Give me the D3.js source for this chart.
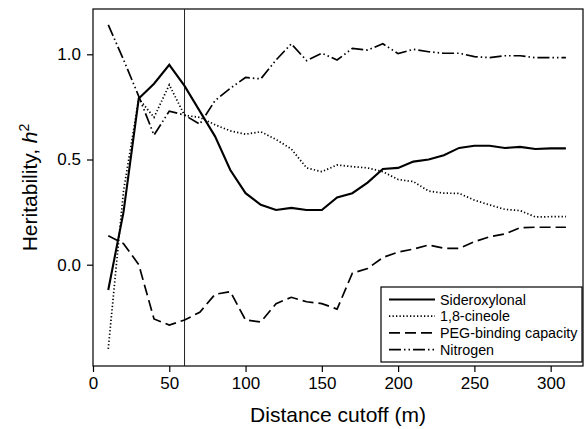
<!DOCTYPE html>
<html>
<head>
<meta charset="utf-8">
<script src="https://cdn.jsdelivr.net/npm/d3@7"></script>
<style>
  body { margin: 0; background: #fff; }
  text { font-family: "Liberation Sans", Arial, sans-serif; fill: #000; }
</style>
</head>
<body>
<div id="chart"></div>
<script>
// Distance cutoffs (m)
var distance = [10, 20, 30, 40, 50, 60, 70, 80, 90, 100, 110, 120, 130, 140, 150, 160,
    170, 180, 190, 200, 210, 220, 230, 240, 250, 260, 270, 280, 290, 300, 310];

// Heritability values
var sideroxylonal = [-0.12, 0.25, 0.79, 0.86, 0.95, 0.85, 0.73, 0.61, 0.45, 0.34, 0.285, 0.26,
    0.27, 0.26, 0.26, 0.32, 0.34, 0.39, 0.455, 0.46, 0.49, 0.50, 0.52, 0.555, 0.565, 0.565,
    0.555, 0.56, 0.55, 0.553, 0.553];
var cineole = [-0.40, 0.35, 0.79, 0.70, 0.855, 0.71, 0.70, 0.665, 0.636, 0.62, 0.632, 0.595,
    0.55, 0.46, 0.442, 0.474, 0.466, 0.46, 0.442, 0.405, 0.395, 0.35, 0.34, 0.339, 0.307,
    0.284, 0.263, 0.257, 0.227, 0.228, 0.228];
var peg = [0.138, 0.10, 0.0, -0.258, -0.287, -0.263, -0.226, -0.141, -0.128, -0.263, -0.272,
    -0.185, -0.155, -0.176, -0.185, -0.211, -0.04, -0.018, 0.034, 0.06, 0.074, 0.094, 0.078,
    0.078, 0.109, 0.133, 0.146, 0.176, 0.178, 0.178, 0.178];
var nitrogen = [1.14, 0.975, 0.80, 0.616, 0.73, 0.711, 0.668, 0.78, 0.838, 0.89, 0.883, 0.973,
    1.05, 0.97, 1.005, 0.973, 1.028, 1.02, 1.05, 1.003, 1.024, 1.012, 1.005, 1.005, 0.989,
    0.984, 0.993, 0.993, 0.984, 0.984, 0.984];

var seriesNames = ["Sideroxylonal", "1,8-cineole", "PEG-binding capacity", "Nitrogen"];
var xTicks = [0, 50, 100, 150, 200, 250, 300];
var yTicks = [0.0, 0.5, 1.0];
var cutoffLine = 60;

var svgWidth = 588;
var svgHeight = 429;

var svg = d3.select("#chart")
    .append("svg")
    .attr("width", svgWidth)
    .attr("height", svgHeight);

var margin = { top: 9, right: 5, bottom: 63, left: 93 };
var width = svgWidth - margin.left - margin.right;
var height = svgHeight - margin.top - margin.bottom;

var chartGroup = svg.append("g")
    .attr("transform", `translate(${margin.left}, ${margin.top})`);

// Scales
var xScale = d3.scaleLinear().domain([0, 321.2]).range([0, width]);
var yScale = d3.scaleLinear().domain([-0.4815, 1.2153]).range([height, 0]);

// Axes
var bottomAxis = d3.axisBottom(xScale).tickValues(xTicks).tickSize(6).tickPadding(5)
    .tickFormat(d3.format("d"));
var leftAxis = d3.axisLeft(yScale).tickValues(yTicks).tickSize(6).tickPadding(6)
    .tickFormat(d3.format(".1f"));

var xAxisG = chartGroup.append("g")
    .attr("transform", `translate(0, ${height})`)
    .call(bottomAxis);
var yAxisG = chartGroup.append("g").call(leftAxis);

[xAxisG, yAxisG].forEach(function(g) {
    g.select(".domain").remove();
    g.selectAll("line").attr("stroke", "#000").attr("stroke-width", 1.2);
    g.selectAll("text").style("font-size", "17px").attr("fill", "#000");
});

// Frame around plot
chartGroup.append("rect")
    .attr("width", width)
    .attr("height", height)
    .attr("fill", "none")
    .attr("stroke", "#000")
    .attr("stroke-width", 1.2);

// Vertical reference line
chartGroup.append("line")
    .attr("x1", xScale(cutoffLine)).attr("x2", xScale(cutoffLine))
    .attr("y1", 0).attr("y2", height)
    .attr("stroke", "#222")
    .attr("stroke-width", 1);

// Series lines
var styles = [
    { values: sideroxylonal, dash: null, w: 2.1 },
    { values: cineole, dash: "1.3,2.2", w: 1.7 },
    { values: peg, dash: "11,5", w: 1.7 },
    { values: nitrogen, dash: "12,3,1.5,3,1.5,3", w: 1.7 }
];

var line = d3.line()
    .x((d, i) => xScale(distance[i]))
    .y(d => yScale(d));

styles.forEach(function(s) {
    chartGroup.append("path")
        .datum(s.values)
        .attr("d", line)
        .attr("fill", "none")
        .attr("stroke", "#000")
        .attr("stroke-width", s.w)
        .attr("stroke-dasharray", s.dash);
});

// Legend
var legend = svg.append("g").attr("transform", "translate(381, 287)");
legend.append("rect")
    .attr("width", 201)
    .attr("height", 75)
    .attr("fill", "#fff")
    .attr("stroke", "#000")
    .attr("stroke-width", 1.2);

seriesNames.forEach(function(name, i) {
    var y = 12.5 + i * 16.7;
    legend.append("line")
        .attr("x1", 8).attr("x2", 54)
        .attr("y1", y).attr("y2", y)
        .attr("stroke", "#000")
        .attr("stroke-width", styles[i].w)
        .attr("stroke-dasharray", styles[i].dash);
    legend.append("text")
        .attr("x", 59)
        .attr("y", y + 5)
        .style("font-size", "14.3px")
        .text(name);
});

// Axis titles
svg.append("text")
    .attr("x", margin.left + width / 2)
    .attr("y", 422)
    .attr("text-anchor", "middle")
    .style("font-size", "21px")
    .text("Distance cutoff (m)");

var yTitle = svg.append("text")
    .attr("transform", `translate(37, ${margin.top + height / 2}) rotate(-90)`)
    .attr("text-anchor", "middle")
    .style("font-size", "21px");
yTitle.append("tspan").text("Heritability, ");
yTitle.append("tspan").style("font-style", "italic").text("h");
yTitle.append("tspan").attr("dy", -8).style("font-size", "14px").text("2");
</script>
</body>
</html>
